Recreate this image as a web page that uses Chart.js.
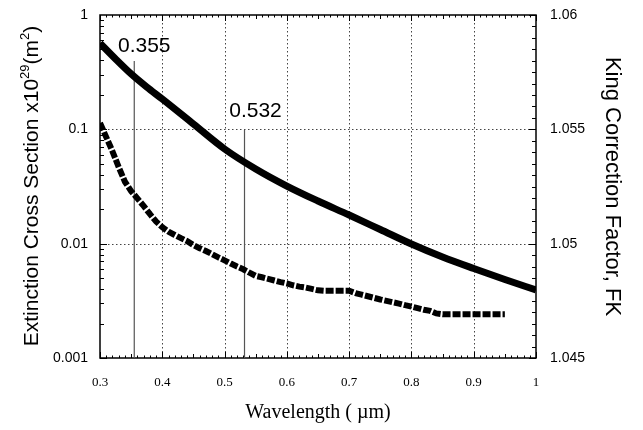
<!DOCTYPE html>
<html>
<head>
<meta charset="utf-8">
<script src="https://cdn.jsdelivr.net/npm/chart.js@4.4.1/dist/chart.umd.min.js"></script>
<style>
  html, body { margin: 0; padding: 0; background: #fff; }
  #c { display: block; }
</style>
</head>
<body>
<canvas id="c" width="643" height="430"></canvas>
<script>
// ---- Data ----
const crossWavelengths = [0.30, 0.325, 0.35, 0.375, 0.40, 0.45, 0.50, 0.55, 0.60, 0.65, 0.70, 0.75, 0.80, 0.85, 0.90, 0.95, 1.00];
const crossSection     = [0.566, 0.412, 0.305, 0.2345, 0.184, 0.1113, 0.0673, 0.0450, 0.0319, 0.0236, 0.0178, 0.0133, 0.00993, 0.00764, 0.00606, 0.00486, 0.00393];

const kingWavelengths = [0.30,0.31,0.32,0.33,0.34,0.35,0.36,0.37,0.38,0.39,
                         0.40,0.41,0.42,0.43,0.44,0.45,0.46,0.47,0.48,0.49,
                         0.50,0.51,0.52,0.53,0.54,0.55,0.56,0.57,0.58,0.59,
                         0.60,0.61,0.62,0.63,0.64,0.65,0.66,0.67,0.68,0.69,
                         0.70,0.71,0.72,0.73,0.74,0.75,0.76,0.77,0.78,0.79,
                         0.80,0.81,0.82,0.83,0.84,0.85,0.86,0.87,0.88,0.89,
                         0.90,0.91,0.92,0.93,0.94,0.95];
const kingFactor = [1.05528,1.05466,1.05404,1.05335,1.05271,1.05230,1.05198,1.05165,1.05130,1.05097,
                    1.05072,1.05052,1.05038,1.05024,1.05011,1.04994,1.04980,1.04968,1.04954,1.04940,
                    1.04927,1.04913,1.04900,1.04888,1.04873,1.04859,1.04853,1.04846,1.04839,1.04832,
                    1.04826,1.04818,1.04812,1.04808,1.04802,1.04796,1.04794,1.04794,1.04794,1.04794,
                    1.04794,1.04784,1.04777,1.04770,1.04763,1.04756,1.04750,1.04744,1.04738,1.04731,
                    1.04725,1.04718,1.04711,1.04706,1.04695,1.04691,1.04691,1.04691,1.04691,1.04691,
                    1.04691,1.04691,1.04691,1.04691,1.04691,1.04691];

const markWavelengths = [0.355, 0.532];
const markTops        = [0.396, 0.0987];   // top of each marker line (left-axis units)
const markLabels      = ['0.355', '0.532'];

const xTicks     = [0.3, 0.4, 0.5, 0.6, 0.7, 0.8, 0.9, 1.0];
const leftTicks  = [1, 0.1, 0.01, 0.001];
const rightTicks = [1.06, 1.055, 1.05, 1.045];

// ---- Chart ----
const sans = "'Liberation Sans', Arial, Helvetica, sans-serif";
const serif = "'Liberation Serif', 'Times New Roman', serif";

const markDatasets = markWavelengths.map((w, i) => ({
  label: 'mark ' + markLabels[i],
  data: [{x: w, y: 0.001}, {x: w, y: markTops[i]}],
  yAxisID: 'y',
  borderColor: '#555',
  borderWidth: 1.2,
  pointRadius: 0,
  tension: 0,
  order: 3
}));

const noPad = s => { s.paddingTop = 0; s.paddingBottom = 0; s.paddingLeft = 0; s.paddingRight = 0; };

const decor = {
  id: 'decor',
  beforeDatasetsDraw(chart) {
    const {ctx, chartArea: a, scales} = chart;
    const x = scales.x, y = scales.y, y2 = scales.y2;
    const line = (x1, y1, x2, y2_) => { ctx.beginPath(); ctx.moveTo(x1, y1); ctx.lineTo(x2, y2_); ctx.stroke(); };
    ctx.save();
    // dotted grid
    ctx.strokeStyle = '#444';
    ctx.lineWidth = 1;
    ctx.setLineDash([1.5, 2.5]);
    xTicks.slice(1, -1).forEach(v => {
      const px = Math.round(x.getPixelForValue(v)) + 0.5;
      line(px, a.top, px, a.bottom);
    });
    leftTicks.slice(1, -1).forEach(v => {
      const py = Math.round(y.getPixelForValue(v)) + 0.5;
      line(a.left, py, a.right, py);
    });
    ctx.setLineDash([]);
    ctx.strokeStyle = '#000';
    ctx.lineWidth = 1;
    // top & bottom inward ticks
    for (let i = 0; i <= 70; i++) {
      const v = 0.3 + i * 0.01;
      const px = Math.round(x.getPixelForValue(v)) + 0.5;
      const len = i % 10 === 0 ? 6 : (i % 5 === 0 ? 4 : 2.5);
      line(px, a.bottom, px, a.bottom - len);
      line(px, a.top, px, a.top + len);
    }
    // left log ticks
    [0.001, 0.01, 0.1].forEach(d => {
      for (let k = 1; k <= 9; k++) {
        const v = k * d;
        const py = Math.round(y.getPixelForValue(v)) + 0.5;
        const len = k === 1 ? 7 : 4;
        line(a.left, py, a.left + len, py);
      }
    });
    // right linear ticks
    for (let j = 0; j <= 30; j++) {
      const v = 1.045 + j * 0.0005;
      const py = Math.round(y2.getPixelForValue(v)) + 0.5;
      const len = j % 10 === 0 ? 7 : 4;
      line(a.right, py, a.right - len, py);
    }
    // frame
    ctx.lineWidth = 1.5;
    ctx.strokeRect(a.left, a.top, a.right - a.left, a.bottom - a.top);
    ctx.restore();
  },
  afterDraw(chart) {
    const {ctx, scales} = chart;
    const x = scales.x, y = scales.y;
    ctx.save();
    ctx.fillStyle = '#000';
    // marker labels
    ctx.font = '21px ' + sans;
    ctx.textAlign = 'center';
    ctx.textBaseline = 'alphabetic';
    const offs = [[10, 8.5], [11, 12.5]];
    markWavelengths.forEach((w, i) => {
      const px = x.getPixelForValue(w);
      const py = y.getPixelForValue(markTops[i]);
      ctx.fillText(markLabels[i], px + offs[i][0], py - offs[i][1]);
    });
    // bottom title
    ctx.font = '20px ' + serif;
    ctx.textAlign = 'center';
    ctx.fillText('Wavelength ( \u00b5m)', 318, 418);
    // left title with superscripts
    ctx.save();
    ctx.translate(37.5, 186);
    ctx.rotate(-Math.PI / 2);
    const big = '21px ' + sans, small = '13px ' + sans;
    const parts = [
      ['Extinction Cross Section x10', big, 0],
      ['29', small, -9],
      ['(m', big, 0],
      ['2', small, -9],
      [')', big, 0]
    ];
    let total = 0;
    parts.forEach(p => { ctx.font = p[1]; total += ctx.measureText(p[0]).width; });
    let cx = -total / 2;
    ctx.textAlign = 'left';
    parts.forEach(p => {
      ctx.font = p[1];
      ctx.fillText(p[0], cx, p[2]);
      cx += ctx.measureText(p[0]).width;
    });
    ctx.restore();
    // right title
    ctx.save();
    ctx.translate(606, 186.5);
    ctx.rotate(Math.PI / 2);
    ctx.font = '22px ' + sans;
    ctx.textAlign = 'center';
    ctx.fillText('King Correction Factor, FK', 0, 0);
    ctx.restore();
    ctx.restore();
  }
};

new Chart(document.getElementById('c'), {
  type: 'line',
  data: {
    datasets: [
      {
        label: 'Extinction cross section',
        data: crossWavelengths.map((w, i) => ({x: w, y: crossSection[i]})),
        yAxisID: 'y',
        borderColor: '#000',
        borderWidth: 7,
        pointRadius: 0,
        cubicInterpolationMode: 'monotone',
        borderCapStyle: 'butt',
        order: 1
      },
      {
        label: 'King correction factor',
        data: kingWavelengths.map((w, i) => ({x: w, y: kingFactor[i]})),
        yAxisID: 'y2',
        borderColor: '#000',
        borderWidth: 6,
        borderDash: [8, 2],
        borderCapStyle: 'butt',
        pointRadius: 0,
        tension: 0,
        order: 2
      },
      ...markDatasets
    ]
  },
  options: {
    responsive: false,
    animation: false,
    layout: { padding: { top: 15, left: 0, right: 0, bottom: 0 } },
    plugins: { legend: { display: false }, tooltip: { enabled: false } },
    scales: {
      x: {
        type: 'linear',
        min: 0.3, max: 1.0,
        afterBuildTicks: s => { s.ticks = xTicks.map(v => ({value: v})); },
        afterFit: s => { s.height = 72; noPad(s); },
        grid: { display: false, drawTicks: false },
        border: { display: false },
        ticks: {
          color: '#000',
          font: { family: serif, size: 13 },
          padding: 17,
          maxRotation: 0,
          autoSkip: false,
          callback: v => (v === 1 ? '1' : Number(v).toFixed(1))
        }
      },
      y: {
        type: 'logarithmic',
        position: 'left',
        min: 0.001, max: 1,
        afterBuildTicks: s => { s.ticks = leftTicks.map(v => ({value: v})); },
        afterFit: s => { s.width = 100; noPad(s); },
        grid: { display: false, drawTicks: false },
        border: { display: false },
        ticks: {
          color: '#000',
          font: { family: sans, size: 14 },
          padding: 12,
          autoSkip: false,
          callback: v => String(v)
        }
      },
      y2: {
        type: 'linear',
        position: 'right',
        min: 1.045, max: 1.06,
        afterBuildTicks: s => { s.ticks = rightTicks.map(v => ({value: v})); },
        afterFit: s => { s.width = 107; noPad(s); },
        grid: { display: false, drawTicks: false },
        border: { display: false },
        ticks: {
          color: '#000',
          font: { family: sans, size: 14 },
          padding: 14,
          autoSkip: false,
          callback: v => String(v)
        }
      }
    }
  },
  plugins: [decor]
});
</script>
</body>
</html>
